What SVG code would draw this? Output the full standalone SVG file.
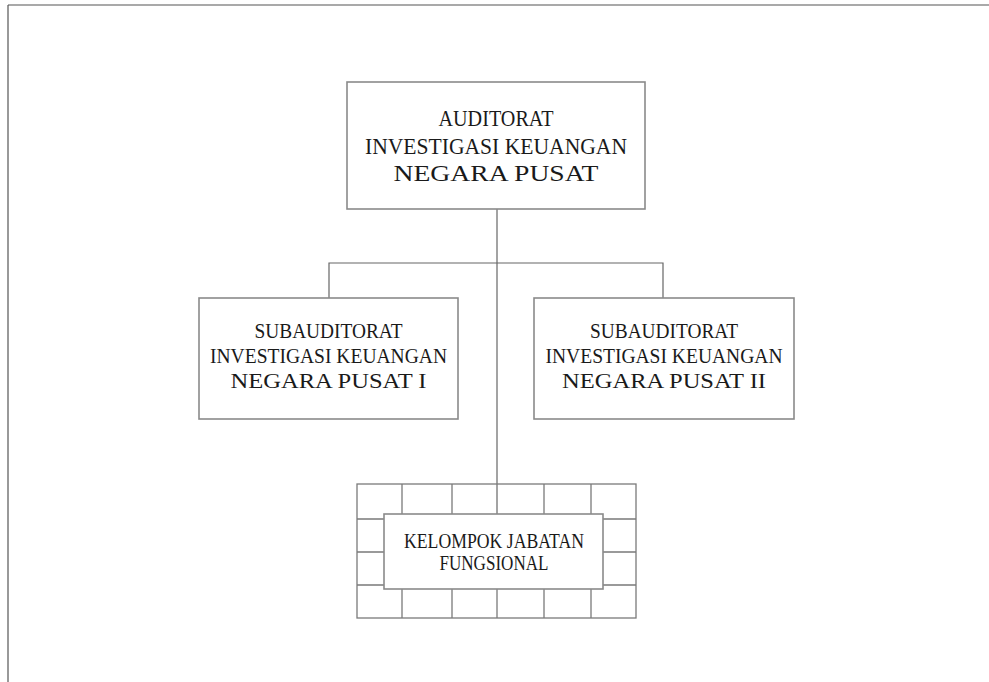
<svg xmlns="http://www.w3.org/2000/svg" width="989" height="682" viewBox="0 0 989 682">
<style>
.frame{stroke:#555;stroke-width:1.2;fill:none}
.box{fill:#fff;stroke:#8a8a8a;stroke-width:1.6}
.grid{fill:none;stroke:#7a7a7a;stroke-width:1.3}
.conn{fill:none;stroke:#666;stroke-width:1.2}
text{font-family:"Liberation Serif","DejaVu Serif",serif;fill:#1a1a1a;text-anchor:middle}
.t1{font-size:23.5px}
.t2{font-size:22px}
.t3{font-size:20px}
</style>
<rect width="989" height="682" fill="#fff"/>
<g id="frame">
<line class="frame" x1="8" y1="5" x2="989" y2="5"/>
<line class="frame" x1="8" y1="5" x2="8" y2="682"/>
</g>
<g id="connectors">
<line class="conn" x1="497" y1="209" x2="497" y2="514"/>
<polyline class="conn" points="329,298 329,263 663,263 663,298"/>
</g>
<g id="top">
<rect class="box" x="347" y="82" width="298" height="127"/>
<text class="t1" x="496" y="126" textLength="115" lengthAdjust="spacingAndGlyphs">AUDITORAT</text>
<text class="t1" x="496" y="154" textLength="262" lengthAdjust="spacingAndGlyphs">INVESTIGASI KEUANGAN</text>
<text class="t1" x="496" y="181" textLength="205" lengthAdjust="spacingAndGlyphs">NEGARA PUSAT</text>
</g>
<g id="sub1">
<rect class="box" x="199" y="298" width="259" height="121"/>
<text class="t2" x="328.5" y="338" textLength="148" lengthAdjust="spacingAndGlyphs">SUBAUDITORAT</text>
<text class="t2" x="328.5" y="363" textLength="237" lengthAdjust="spacingAndGlyphs">INVESTIGASI KEUANGAN</text>
<text class="t2" x="328.5" y="388" textLength="196" lengthAdjust="spacingAndGlyphs">NEGARA PUSAT I</text>
</g>
<g id="sub2">
<rect class="box" x="534" y="298" width="260" height="121"/>
<text class="t2" x="664" y="338" textLength="148" lengthAdjust="spacingAndGlyphs">SUBAUDITORAT</text>
<text class="t2" x="664" y="363" textLength="237" lengthAdjust="spacingAndGlyphs">INVESTIGASI KEUANGAN</text>
<text class="t2" x="664" y="388" textLength="204" lengthAdjust="spacingAndGlyphs">NEGARA PUSAT II</text>
</g>
<g id="kelompok">
<rect class="grid" x="357" y="484" width="279" height="134"/>
<path class="grid" d="M402 484V514M452 484V514M544 484V514M591 484V514M402 589V618M452 589V618M497 589V618M544 589V618M591 589V618M357 519H384M357 552H384M357 585H384M603 519H636M603 552H636M603 585H636"/>
<rect class="box" x="384" y="514" width="219" height="75"/>
<text class="t3" x="494" y="548" textLength="180" lengthAdjust="spacingAndGlyphs">KELOMPOK JABATAN</text>
<text class="t3" x="494" y="570" textLength="109" lengthAdjust="spacingAndGlyphs">FUNGSIONAL</text>
</g>
</svg>
